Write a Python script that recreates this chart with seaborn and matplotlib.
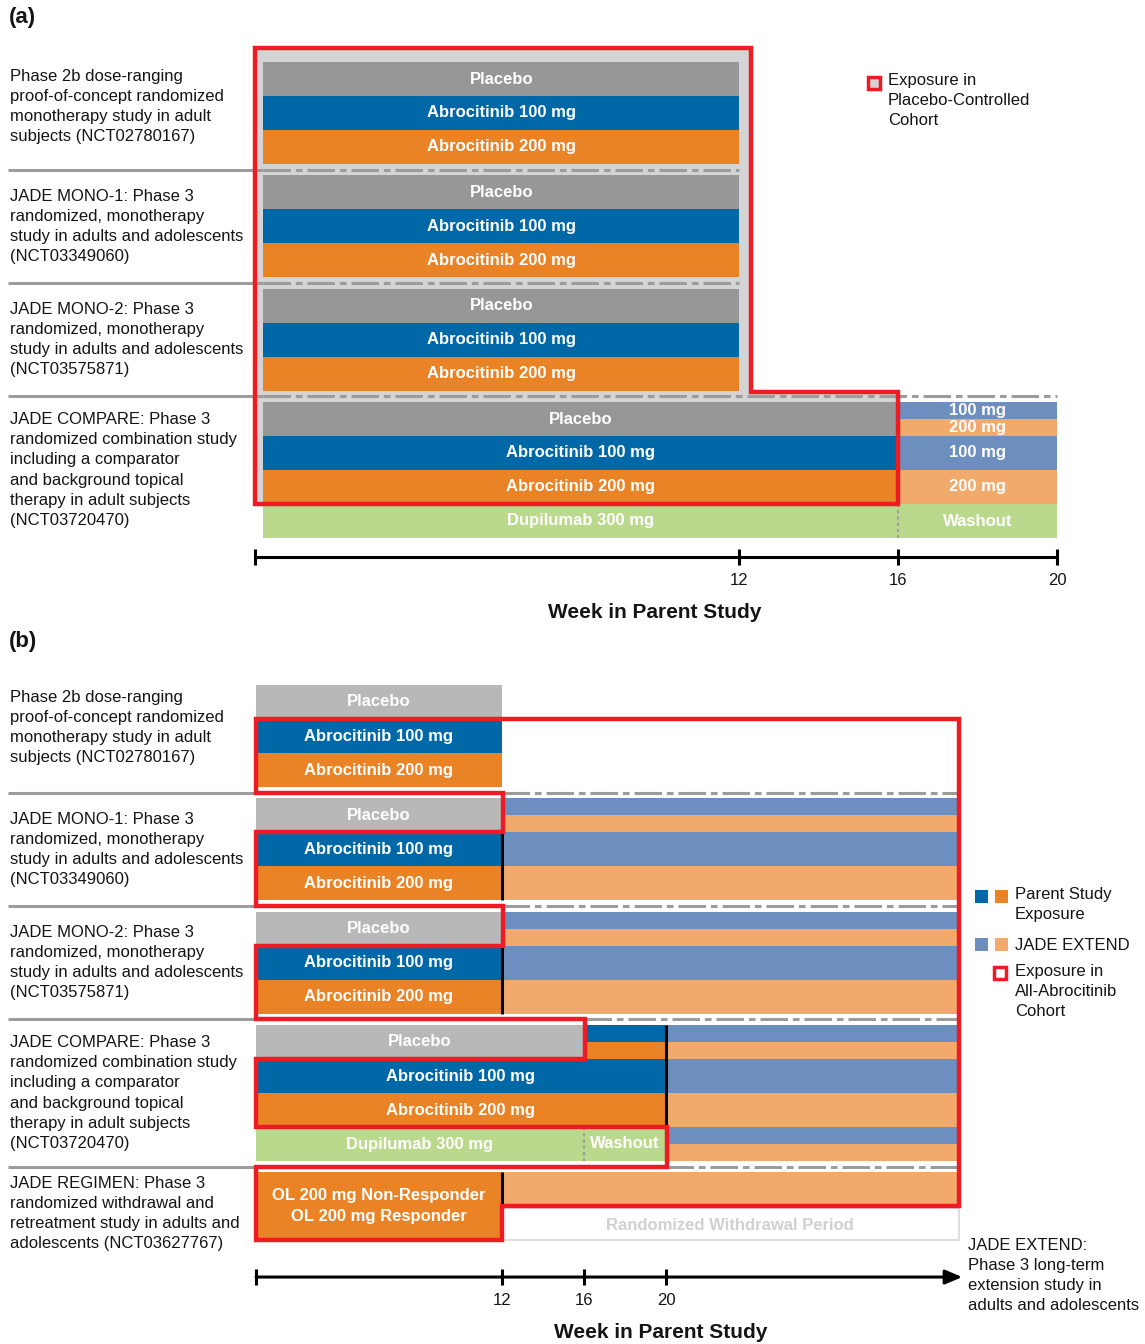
"""Abrocitinib study design: placebo-controlled (a) and all-abrocitinib (b) cohorts."""
import matplotlib

matplotlib.use("Agg")
import matplotlib.pyplot as plt
import matplotlib.transforms as mtransforms
import seaborn as sns
from matplotlib.patches import Polygon, Rectangle

sns.set_theme(style="white")
plt.rcParams["font.family"] = ["Liberation Sans", "DejaVu Sans"]

# ---- chart data -------------------------------------------------------------
studies = [
    "Phase 2b dose-ranging\nproof-of-concept randomized\nmonotherapy study in adult\nsubjects (NCT02780167)",
    "JADE MONO-1: Phase 3\nrandomized, monotherapy\nstudy in adults and adolescents\n(NCT03349060)",
    "JADE MONO-2: Phase 3\nrandomized, monotherapy\nstudy in adults and adolescents\n(NCT03575871)",
    "JADE COMPARE: Phase 3\nrandomized combination study\nincluding a comparator\nand background topical\ntherapy in adult subjects\n(NCT03720470)",
]
regimen_study = (
    "JADE REGIMEN: Phase 3\nrandomized withdrawal and\nretreatment study in adults and\nadolescents (NCT03627767)"
)
arms = ["Placebo", "Abrocitinib 100 mg", "Abrocitinib 200 mg"]
extend_doses = ["100 mg", "200 mg"]
parent_weeks = [12, 12, 12, 16]  # randomized treatment period of each study
compare_switch = 16  # COMPARE: placebo switches to abrocitinib / dupilumab stops
compare_followup = 20  # COMPARE: end of parent study
regimen_weeks = 12
extend_end = 34.2  # JADE EXTEND keeps going (arrow)
dupilumab_label = "Dupilumab 300 mg"
washout_label = "Washout"
regimen_arms = ["OL 200 mg Non-Responder", "OL 200 mg Responder"]
withdrawal_label = "Randomized Withdrawal Period"
week_ticks = [12, 16, 20]
axis_title = "Week in Parent Study"
legend_a = "Exposure in\nPlacebo-Controlled\nCohort"
legend_b = ["Parent Study\nExposure", "JADE EXTEND", "Exposure in\nAll-Abrocitinib\nCohort"]
extend_note = "JADE EXTEND:\nPhase 3 long-term\nextension study in\nadults and adolescents"

PALETTE = {"Placebo": "#979797", "Abrocitinib 100 mg": "#0068A6", "Abrocitinib 200 mg": "#E98325"}
PARENT = {"100 mg": "#0068A6", "200 mg": "#E98325"}
EXT = {"100 mg": "#6C8FBF", "200 mg": "#F1AA6B"}
PLACEBO_B = "#B8B8B8"
GREEN = "#BBD98C"
BOX = "#D4D4D4"
RED = "#ED1C24"
SEP = "#9C9C9C"
INK = "#141414"
LS = 1.42  # line spacing of the multi-line captions

W, H = 1145, 1344
GAP = 1 / 3
fig = plt.figure(figsize=(W / 100, H / 100), dpi=100)


def panel_axes(top_px, bottom_px, x0_px, px_week, y0_px, row_px=34):
    ax = fig.add_axes([0, 1 - bottom_px / H, 1, (bottom_px - top_px) / H])
    ax.set_xlim(-x0_px / px_week, (W - x0_px) / px_week)
    ax.set_ylim((bottom_px - y0_px) / row_px, (top_px - y0_px) / row_px)
    ax.set_axis_off()
    return ax


def group_tops(sizes):
    tops, y = [], 0.0
    for n in sizes:
        tops.append(y)
        y += n + GAP
    return tops


def blend(ax):
    return mtransforms.blended_transform_factory(ax.transAxes, ax.transData)


def bar(ax, y, start, end, color, text="", half=None, rows=1, tcolor="white"):
    h = rows
    if half:
        h = 0.5
        y = y + (0.5 if half == "bottom" else 0)
    ax.barh(y + h / 2, end - start, left=start, height=h, color=color, linewidth=0, zorder=2)
    if text:
        ax.text((start + end) / 2, y + h / 2, text, ha="center", va="center", color=tcolor,
                fontsize=12, fontweight="bold", zorder=6, linespacing=1.5)


def split(ax, y, start, end, colors, labels=("", "")):
    bar(ax, y, start, end, colors[0], labels[0], half="top")
    bar(ax, y, start, end, colors[1], labels[1], half="bottom")


def separator(ax, y, start, end):
    x0, x1 = ax.get_xlim()
    ax.plot([x0 + 0.007 * (x1 - x0), 0], [y, y], color=SEP, lw=2.2, solid_capstyle="butt", zorder=3)
    ax.plot([start, end], [y, y], color=SEP, lw=2.2, ls=(0, (9, 1.6, 2.2, 1.6)), zorder=3)


def study_label(ax, y, text):
    ax.text(0.009, y, text, transform=blend(ax), ha="left", va="center", fontsize=12,
            linespacing=LS, color=INK)


def timeline(ax, y, x_start, x_end, title_x, arrow=False):
    if arrow:
        ax.annotate("", xy=(x_end, y), xytext=(x_start, y),
                    arrowprops=dict(arrowstyle="-|>,head_length=0.85,head_width=0.36",
                                    color="black", lw=2.2, shrinkA=0, shrinkB=0, mutation_scale=12))
    else:
        ax.plot([x_start, x_end], [y, y], color="black", lw=2.2, solid_capstyle="butt")
    ax.vlines([x_start] + week_ticks, y - 0.24, y + 0.24, color="black", lw=2.2)
    for w in week_ticks:
        ax.text(w, y + 0.68, str(w), ha="center", va="center", fontsize=12, color=INK)
    ax.text(title_x, y + 1.64, axis_title, transform=blend(ax), ha="center", va="center",
            fontsize=15, fontweight="bold", color=INK)


# ---- panel (a): placebo-controlled cohort ----------------------------------
ax_a = panel_axes(0, 630, 263, 39.7, 62)
tops_a = group_tops([3, 3, 3, 4])
c = 3  # JADE COMPARE
box_left, box_top = -0.2, -0.41
box = [
    (box_left, box_top),
    (parent_weeks[0] + 0.3, box_top),
    (parent_weeks[0] + 0.3, tops_a[c] - 0.3),
    (parent_weeks[c], tops_a[c] - 0.3),
    (parent_weeks[c], tops_a[c] + len(arms)),
    (box_left, tops_a[c] + len(arms)),
]
ax_a.add_patch(Polygon(box, closed=True, facecolor=BOX, edgecolor="none", zorder=1))
ax_a.add_patch(Polygon(box, closed=True, fill=False, edgecolor=RED, lw=3.2, joinstyle="miter", zorder=5))

for g, top in enumerate(tops_a):
    for i, arm in enumerate(arms):
        bar(ax_a, top + i, 0, parent_weeks[g], PALETTE[arm], arm)

top = tops_a[c]
split(ax_a, top, compare_switch, compare_followup, [EXT[d] for d in extend_doses], extend_doses)
for i, d in enumerate(extend_doses):
    bar(ax_a, top + 1 + i, compare_switch, compare_followup, EXT[d], d)
bar(ax_a, top + 3, 0, compare_switch, GREEN, dupilumab_label)
bar(ax_a, top + 3, compare_switch, compare_followup, GREEN, washout_label)
ax_a.vlines(compare_switch, top + 3, top + 4, color=SEP, lw=1.5, ls=(0, (1.5, 1.5)), zorder=3)

for g in range(1, 4):
    separator(ax_a, tops_a[g] - GAP / 2, 0, compare_followup if g == c else parent_weeks[g])
for g, top in enumerate(tops_a):
    study_label(ax_a, top + (4 if g == c else 3) / 2 - (0.2 if g == 0 else 0), studies[g])
timeline(ax_a, tops_a[c] + 4.56, box_left, compare_followup, 0.572)

# ---- panel (b): all-abrocitinib cohort -------------------------------------
ax_b = panel_axes(630, 1344, 256, 20.5, 685)
tops_b = group_tops([3, 3, 3, 4, 2])
r = 4  # JADE REGIMEN

for g in range(4):
    top = tops_b[g]
    for i, arm in enumerate(arms):
        if g < c:
            end = parent_weeks[g]
        else:
            end = compare_switch if i == 0 else compare_followup
        bar(ax_b, top + i, 0, end, PLACEBO_B if i == 0 else PALETTE[arm], arm)

for g in (1, 2):
    top = tops_b[g]
    split(ax_b, top, parent_weeks[g], extend_end, [EXT[d] for d in extend_doses])
    for i, d in enumerate(extend_doses):
        bar(ax_b, top + 1 + i, parent_weeks[g], extend_end, EXT[d])
    ax_b.vlines(parent_weeks[g], top + 1, top + 3, color="black", lw=2.2, zorder=4)

top = tops_b[c]
split(ax_b, top, compare_switch, compare_followup, [PARENT[d] for d in extend_doses])
split(ax_b, top, compare_followup, extend_end, [EXT[d] for d in extend_doses])
for i, d in enumerate(extend_doses):
    bar(ax_b, top + 1 + i, compare_followup, extend_end, EXT[d])
bar(ax_b, top + 3, 0, compare_switch, GREEN, dupilumab_label)
bar(ax_b, top + 3, compare_switch, compare_followup, GREEN, washout_label)
split(ax_b, top + 3, compare_followup, extend_end, [EXT[d] for d in extend_doses])
ax_b.vlines(compare_switch, top + 3, top + 4, color=SEP, lw=1.5, ls=(0, (1.5, 1.5)), zorder=3)
ax_b.vlines(compare_followup, top, top + 3, color="black", lw=2.2, zorder=4)

top = tops_b[r]
bar(ax_b, top, 0, regimen_weeks, PALETTE["Abrocitinib 200 mg"], "\n".join(regimen_arms), rows=2)
bar(ax_b, top, regimen_weeks, extend_end, EXT["200 mg"])
ax_b.vlines(regimen_weeks, top, top + 1, color="black", lw=2.2, zorder=4)
ax_b.add_patch(Rectangle((regimen_weeks, top + 1.06), extend_end + 0.1 - regimen_weeks, 0.94,
                         facecolor="white", edgecolor="#DEDEDE", lw=1.5, zorder=2))
ax_b.text((regimen_weeks + extend_end) / 2, top + 1.55, withdrawal_label, ha="center", va="center",
          color="#D0D0D0", fontsize=12, fontweight="bold", zorder=6)

# red outline of the all-abrocitinib exposure, with notches for non-abrocitinib periods
notches = [
    (tops_b[c] + 3, tops_b[r] - GAP / 2, compare_followup),
    (tops_b[c] - GAP / 2, tops_b[c] + 1, compare_switch),
    (tops_b[2] - GAP / 2, tops_b[2] + 1, parent_weeks[2]),
    (tops_b[1] - GAP / 2, tops_b[1] + 1, parent_weeks[1]),
]
xr = extend_end + 0.1
outline = [
    (0, tops_b[0] + 1), (xr, tops_b[0] + 1), (xr, tops_b[r] + 1),
    (regimen_weeks, tops_b[r] + 1), (regimen_weeks, tops_b[r] + 2), (0, tops_b[r] + 2),
]
for y0, y1, end in notches:
    outline += [(0, y1), (end + 0.05, y1), (end + 0.05, y0), (0, y0)]
ax_b.add_patch(Polygon(outline, closed=True, fill=False, edgecolor=RED, lw=3.2, joinstyle="miter", zorder=5))

sep_starts = [parent_weeks[1], parent_weeks[2], compare_switch, compare_followup]
for g, start in zip(range(1, 5), sep_starts):
    separator(ax_b, tops_b[g] - GAP / 2, start, extend_end)
for g in range(4):
    study_label(ax_b, tops_b[g] + (4 if g == c else 3) / 2 - (0.25 if g == 0 else 0), studies[g])
study_label(ax_b, tops_b[r] + 1.2, regimen_study)
timeline(ax_b, tops_b[r] + 3.08, 0, extend_end + 0.25, 0.577, arrow=True)

# ---- panel letters, legends and notes (pixel overlay) ----------------------
ov = fig.add_axes([0, 0, 1, 1], zorder=10)
ov.set_xlim(0, W)
ov.set_ylim(H, 0)
ov.set_axis_off()
ov.text(9, 18, "(a)", fontsize=16, fontweight="bold", va="center", color=INK)
ov.text(9, 641, "(b)", fontsize=16, fontweight="bold", va="center", color=INK)

ov.add_patch(Rectangle((867.5, 76.5), 12, 12, facecolor=BOX, edgecolor=RED, lw=2.5))
ov.text(888, 73, legend_a, va="top", fontsize=12, linespacing=LS, color=INK)

ov.add_patch(Rectangle((975, 890), 13, 13, facecolor=PARENT["100 mg"], lw=0))
ov.add_patch(Rectangle((995, 890), 13, 13, facecolor=PARENT["200 mg"], lw=0))
ov.text(1015, 887, legend_b[0], va="top", fontsize=12, linespacing=LS, color=INK)
ov.add_patch(Rectangle((975, 938), 13, 13, facecolor=EXT["100 mg"], lw=0))
ov.add_patch(Rectangle((995, 938), 13, 13, facecolor=EXT["200 mg"], lw=0))
ov.text(1015, 945, legend_b[1], va="center", fontsize=12, color=INK)
ov.add_patch(Rectangle((994, 967), 12, 12, facecolor="white", edgecolor=RED, lw=2.5))
ov.text(1015, 964, legend_b[2], va="top", fontsize=12, linespacing=LS, color=INK)
ov.text(968, 1238, extend_note, va="top", fontsize=12, linespacing=LS, color=INK)

fig.savefig("out.png", dpi=100)
